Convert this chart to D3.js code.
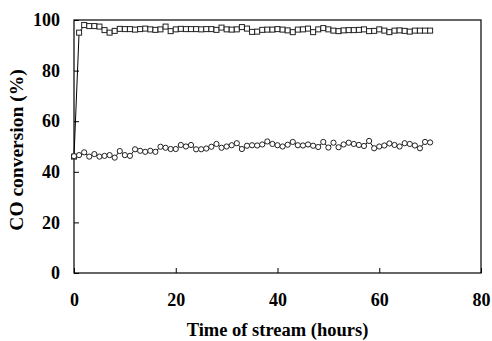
<!DOCTYPE html>
<html>
<head>
<meta charset="utf-8">
<script src="https://cdn.jsdelivr.net/npm/d3@7"></script>
<style>
body { margin: 0; background: #fff; }
text { font-family: "Liberation Serif", "Times New Roman", serif; font-weight: bold; }
</style>
</head>
<body>
<svg id="chart"></svg>
<script>
// hours on stream, one reading per hour
const hours = d3.range(0, 71)

// squares series
const squareSeries = [46, 95, 98, 97.6, 97.6, 97.4, 96, 95, 95.7, 96.5,
  96.4, 96.4, 96.2, 96.4, 96.6, 96.3, 96.1, 96.3, 97.4, 95.6,
  96.3, 96.5, 96.4, 96.4, 96.4, 96.3, 96.4, 96.4, 96.1, 97.0,
  96.3, 96.2, 96.3, 97.2, 96.6, 95.3, 95.4, 96.1, 96.2, 96.2,
  96.4, 96.2, 95.9, 95.2, 96.2, 96.3, 96.6, 95.2, 96.3, 96.8,
  96.3, 95.8, 95.6, 95.9, 96.0, 96.0, 96.1, 96.3, 95.6, 95.7,
  96.3, 95.8, 95.2, 95.8, 95.9, 95.7, 95.4, 95.8, 95.8, 95.8,
  95.8]

// circles series
const circleSeries = [46.2, 46.6, 47.7, 46.0, 47.0, 46.0, 46.3, 46.6, 45.6, 48.2,
  46.6, 46.3, 48.9, 48.3, 47.9, 48.3, 47.9, 49.9, 49.5, 49.0,
  49.0, 50.6, 50.0, 50.6, 48.9, 48.9, 49.2, 49.9, 51.0, 49.5,
  50.0, 50.5, 51.3, 49.0, 50.3, 50.5, 50.4, 50.8, 52.0, 51.0,
  50.5, 50.0, 50.7, 51.8, 50.5, 50.4, 50.8, 50.3, 49.8, 51.8,
  49.6, 51.5, 49.7, 50.8, 51.5, 51.0, 50.6, 50.2, 52.2, 49.3,
  50.0, 50.4, 51.2, 50.6, 50.0, 51.3, 51.0, 50.4, 49.3, 51.8,
  51.6]

const xTicks = [0, 20, 40, 60, 80]
const yTicks = [0, 20, 40, 60, 80, 100]

const width = 492
const height = 341
const margin = {left: 74, right: 11, top: 20, bottom: 68}

const svg = d3.select('#chart')
  .attr('width', width)
  .attr('height', height)

const x = d3.scaleLinear()
  .domain([0, 80])
  .range([margin.left, width - margin.right])

const y = d3.scaleLinear()
  .domain([0, 100])
  .range([height - margin.bottom, margin.top])

// frame
svg.append('rect')
  .attr('x', x(0))
  .attr('y', y(100))
  .attr('width', x(80) - x(0))
  .attr('height', y(0) - y(100))
  .attr('fill', 'none')
  .attr('stroke', '#000')
  .attr('stroke-width', 1.2)

// axes with inward ticks
const xAxis = d3.axisBottom(x).tickValues(xTicks).tickSize(-5).tickPadding(20)
svg.append('g')
  .attr('transform', 'translate(0,' + y(0) + ')')
  .call(xAxis)
  .call(g => g.select('.domain').remove())
  .call(g => g.selectAll('text').attr('font-size', 18).attr('font-family', '"Liberation Serif", serif').attr('fill', '#000'))

const yAxis = d3.axisLeft(y).tickValues(yTicks).tickSize(-5).tickPadding(14)
svg.append('g')
  .attr('transform', 'translate(' + x(0) + ',0)')
  .call(yAxis)
  .call(g => g.select('.domain').remove())
  .call(g => g.selectAll('text').attr('font-size', 18).attr('font-family', '"Liberation Serif", serif').attr('fill', '#000'))

const line = d3.line()
  .x((d, i) => x(hours[i]))
  .y(d => y(d))

svg.append('path')
  .datum(squareSeries)
  .attr('d', line)
  .attr('fill', 'none')
  .attr('stroke', '#000')
  .attr('stroke-width', 1)

svg.append('path')
  .datum(circleSeries)
  .attr('d', line)
  .attr('fill', 'none')
  .attr('stroke', '#000')
  .attr('stroke-width', 1)

svg.selectAll('.sq')
  .data(squareSeries)
  .enter()
  .append('rect')
  .attr('class', 'sq')
  .attr('x', (d, i) => x(hours[i]) - 2.5)
  .attr('y', d => y(d) - 2.5)
  .attr('width', 5)
  .attr('height', 5)
  .attr('fill', '#fff')
  .attr('stroke', '#222')
  .attr('stroke-width', 1)

svg.selectAll('.ci')
  .data(circleSeries)
  .enter()
  .append('circle')
  .attr('class', 'ci')
  .attr('cx', (d, i) => x(hours[i]))
  .attr('cy', d => y(d))
  .attr('r', 2.6)
  .attr('fill', '#fff')
  .attr('stroke', '#222')
  .attr('stroke-width', 1)

svg.append('text')
  .attr('x', (x(0) + x(80)) / 2)
  .attr('y', 336)
  .attr('text-anchor', 'middle')
  .attr('font-size', 18.5)
  .text('Time of stream (hours)')

svg.append('text')
  .attr('transform', 'translate(23,' + 150 + ') rotate(-90)')
  .attr('text-anchor', 'middle')
  .attr('font-size', 19.5)
  .text('CO conversion (%)')
</script>
</body>
</html>
